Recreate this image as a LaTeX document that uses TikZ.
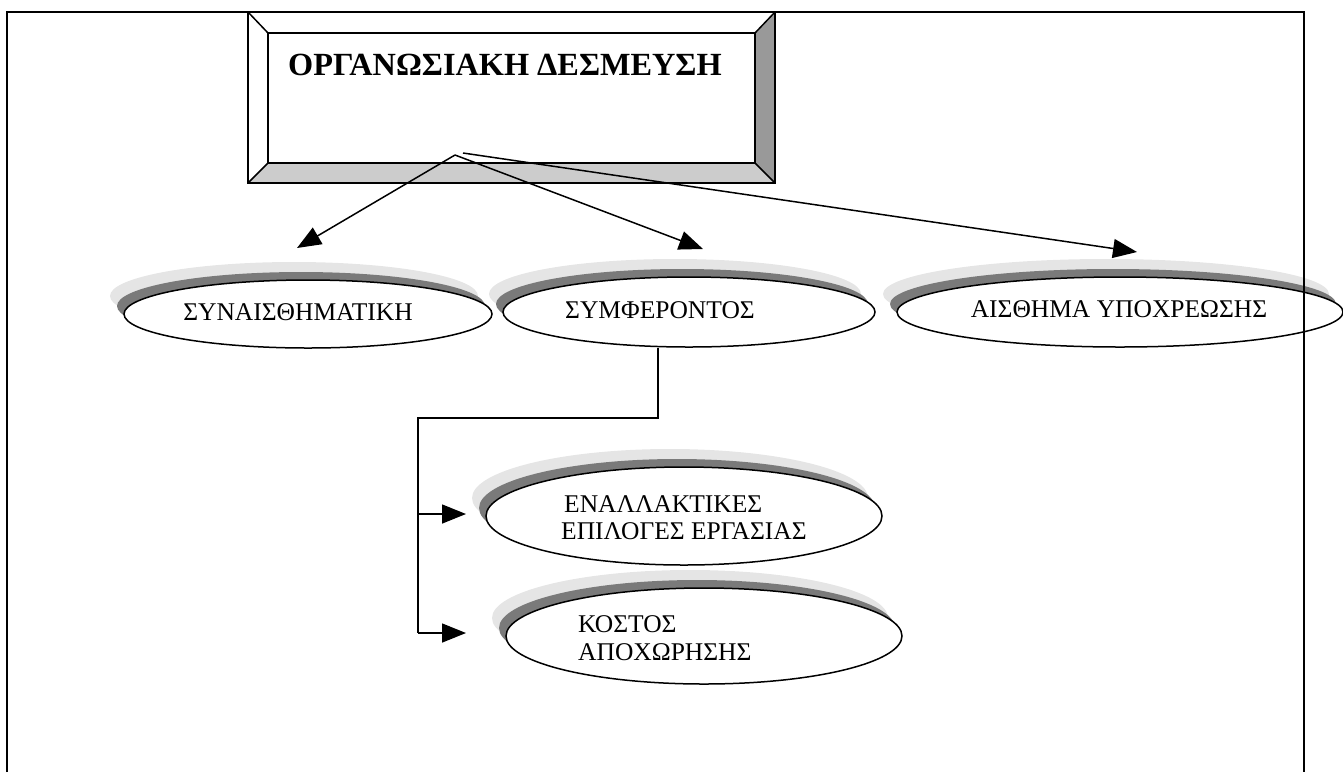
\documentclass[tikz,border=0pt]{standalone}
\usepackage{fontspec}
\setmainfont{Liberation Serif}
\usetikzlibrary{shapes.geometric,arrows.meta}
\tikzset{
  oval/.style={ellipse, draw, line width=1.5pt, fill=white, inner sep=0pt},
  lbl/.style={font=\fontsize{25.5}{30}\selectfont, inner sep=0pt},
  ttl/.style={font=\fontsize{32.3}{38}\selectfont\bfseries, inner sep=0pt},
  arr/.style={line width=1.5pt, -{Triangle[length=24pt,width=19pt]}},
  conn/.style={line width=1.5pt},
  bev/.style={draw, line width=1.5pt, line join=miter},
  frame/.style={line width=2.2pt}
}
\newcommand\myoval[5]{%
  \fill[black!10] ({#2-14},{#3-18}) ellipse [x radius=#4pt, y radius=#5pt];
  \fill[black!52] ({#2-7},{#3-8}) ellipse [x radius=#4pt, y radius=#5pt];
  \node[oval, minimum width=2*#4pt, minimum height=2*#5pt] (#1) at (#2,#3) {};
}
\begin{document}
\begin{tikzpicture}[x=1pt,y=-1pt]
\useasboundingbox (0,0) rectangle (1343,772);
% main beveled box
\node[draw, line width=1.5pt, minimum width=527pt, minimum height=171pt, inner sep=0pt] (main) at (511.5,97.5) {};
\fill[white] (248,12) -- (775,12) -- (755,33) -- (268,33) -- cycle;
\fill[white] (248,12) -- (268,33) -- (268,163) -- (248,183) -- cycle;
\fill[black!40] (775,12) -- (775,183) -- (755,163) -- (755,33) -- cycle;
\fill[black!20] (248,183) -- (775,183) -- (755,163) -- (268,163) -- cycle;
\draw[bev] (248,12) rectangle (775,183);
\draw[bev] (268,33) rectangle (755,163);
\draw[bev] (248,12) -- (268,33) (775,12) -- (755,33) (248,183) -- (268,163) (775,183) -- (755,163);
\node[ttl, anchor=base west] (title) at (288,75) {ΟΡΓΑΝΩΣΙΑΚΗ ΔΕΣΜΕΥΣΗ};
% ovals
\myoval{e1}{308}{314}{184}{34}
\myoval{e2}{689}{312}{186}{35}
\myoval{e3}{1120}{312}{223}{35}
\myoval{e4}{684}{516}{198}{49}
\myoval{e5}{704}{636}{198}{48}
\node[lbl, anchor=base] (t1) at (298,320) {ΣΥΝΑΙΣΘΗΜΑΤΙΚΗ};
\node[lbl, anchor=base] (t2) at (660,318) {ΣΥΜΦΕΡΟΝΤΟΣ};
\node[lbl, anchor=base] (t3) at (1119,317) {ΑΙΣΘΗΜΑ ΥΠΟΧΡΕΩΣΗΣ};
\node[lbl, anchor=base west] (t4a) at (564,512) {ΕΝΑΛΛΑΚΤΙΚΕΣ};
\node[lbl, anchor=base west] (t4b) at (561,539) {ΕΠΙΛΟΓΕΣ ΕΡΓΑΣΙΑΣ};
\node[lbl, anchor=base west] (t5a) at (578,632) {ΚΟΣΤΟΣ};
\node[lbl, anchor=base west] (t5b) at (578,660) {ΑΠΟΧΩΡΗΣΗΣ};
% arrows from main box
\coordinate (src) at (455,155);
\coordinate (src2) at (463,153);
\coordinate (a1) at (297,248);
\coordinate (a2) at (703,249);
\coordinate (a3) at (1137,252);
\draw[arr] (src) -- (a1);
\draw[arr] (src) -- (a2);
\draw[arr] (src2) -- (a3);
% elbow connector
\coordinate (j1) at (658,418);
\coordinate (j2) at (418,418);
\coordinate (j3) at (418,633);
\coordinate (a4) at (466,514);
\coordinate (a5) at (466,633);
\draw[conn] (e2.south -| j1) -- (j1) -- (j2) -- (j3);
\draw[arr] (j2 |- a4) -- (a4);
\draw[arr] (j3) -- (a5);
% outer frame
\draw[frame] (7,772) -- (7,12) -- (1304,12) -- (1304,772);
\end{tikzpicture}
\end{document}
